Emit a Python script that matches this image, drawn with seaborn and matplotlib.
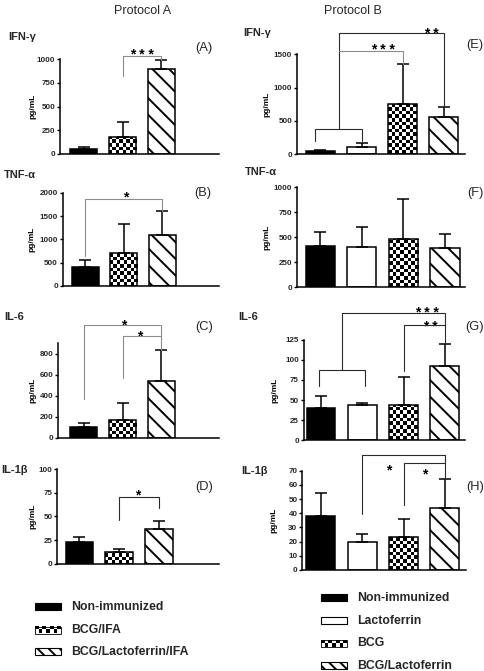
import numpy as np
import pandas as pd
import matplotlib
matplotlib.use("Agg")
import matplotlib.pyplot as plt
import seaborn as sns
from matplotlib.patches import Rectangle

# ---------------- data ----------------
groups_a = ["Non-immunized", "BCG/IFA", "BCG/Lactoferrin/IFA"]
groups_b = ["Non-immunized", "Lactoferrin", "BCG", "BCG/Lactoferrin"]

ifn_a_mean = [56, 176, 891]
ifn_a_err = [21, 162, 95]
tnf_a_mean = [414, 714, 1086]
tnf_a_err = [143, 615, 528]
il6_a_mean = [105, 168, 543]
il6_a_err = [38, 159, 289]
il1_a_mean = [22.5, 12.3, 37]
il1_a_err = [6, 3.5, 8]

ifn_b_mean = [50, 115, 750, 565]
ifn_b_err = [20, 60, 600, 150]
tnf_b_mean = [413, 407, 483, 397]
tnf_b_err = [137, 193, 400, 136]
il6_b_mean = [39.7, 43.5, 43.5, 92.3]
il6_b_err = [15.8, 3.3, 35.5, 26.9]
il1_b_mean = [37.8, 19.8, 23.6, 43.7]
il1_b_err = [16.8, 5.9, 12.4, 20.7]

cytokines = ["IFN-γ", "TNF-α", "IL-6", "IL-1β"]
panel_letters = ["(A)", "(B)", "(C)", "(D)", "(E)", "(F)", "(G)", "(H)"]

# significance brackets (polylines in data units) and star labels
sig_lines = {
    "A": [([1, 1, 2, 2], [817, 1030, 1030, 986], "g")],
    "B": [([0, 0, 2, 2], [643, 1857, 1857, 1614], "g")],
    "C": [([0, 0, 2, 2], [365, 1073, 1073, 835], "g"),
          ([1, 1, 2], [565, 968, 968], "g")],
    "D": [([1, 1, 2, 2], [46, 70, 70, 58.5], "d")],
    "E": [([-0.12, -0.12, 1.0, 1.0], [205, 375, 375, 205], "d"),
          ([0.44, 0.44], [375, 1815], "d"),
          ([0.44, 2, 2], [1555, 1555, 1350], "g"),
          ([0.44, 3, 3], [1815, 1815, 715], "d")],
    "F": [],
    "G": [([-0.05, -0.05, 1.06, 1.06], [67.5, 87, 87, 67.5], "d"),
          ([0.5, 0.5], [87, 158], "d"),
          ([0.5, 3, 3], [158, 158, 119.2], "d"),
          ([2.02, 2.02, 3], [86, 143, 143], "d")],
    "H": [([1, 1, 3, 3], [39.7, 81.3, 81.3, 64.4], "d"),
          ([2, 2, 3], [45.5, 75.1, 75.1], "d")],
}
sig_text = {
    "A": [("* * *", 1.5, 1095)],
    "B": [("*", 1.05, 1986)],
    "C": [("*", 1.04, 1114), ("*", 1.45, 1010)],
    "D": [("*", 1.48, 77)],
    "E": [("* * *", 1.51, 1640), ("* *", 2.7, 1875)],
    "F": [],
    "G": [("* * *", 2.56, 163.5), ("* *", 2.65, 146)],
    "H": [("*", 1.64, 73.5), ("*", 2.51, 70.5)],
}

yaxes = {
    "A": ((0, 1000), [0, 250, 500, 750, 1000]),
    "B": ((0, 2000), [0, 500, 1000, 1500, 2000]),
    "C": ((0, 900), [0, 200, 400, 600, 800]),
    "D": ((0, 100), [0, 25, 50, 75, 100]),
    "E": ((0, 1500), [0, 500, 1000, 1500]),
    "F": ((0, 1000), [0, 250, 500, 750, 1000]),
    "G": ((0, 125), [0, 25, 50, 75, 100, 125]),
    "H": ((0, 70), [0, 10, 20, 30, 40, 50, 60, 70]),
}

style_map = {
    "Non-immunized": "solid",
    "BCG/IFA": "checker",
    "BCG/Lactoferrin/IFA": "hatch",
    "Lactoferrin": "white",
    "BCG": "checker",
    "BCG/Lactoferrin": "hatch",
}

# ---------------- layout (pixels) ----------------
W, H = 484, 671
GRAY = "#8c8c8c"
DARK = "#2a2a2a"
CELL = 3.6

# key: (left, right, top, bottom, xlim, ylabel offset, cytokine label xy, letter xy)
layout = {
    "A": (60, 219, 59, 154, (-0.62, 3.5), -27, (8, 37), (204, 48)),
    "B": (62.7, 219, 192.7, 286, (-0.58, 3.47), -31, (4, 175), (203, 193)),
    "C": (58.3, 219, 343, 437.7, (-0.66, 3.49), -25, (4, 317), (204, 327)),
    "D": (57.3, 219, 469, 563.7, (-0.56, 3.52), -24, (1, 470), (204, 487)),
    "E": (297, 464.7, 54.3, 154.3, (-0.57, 3.51), -30, (243, 33), (475, 45)),
    "F": (297, 465, 187.3, 287.3, (-0.56, 3.48), -30, (245, 172), (475, 193)),
    "G": (303.7, 464.7, 339.7, 440.3, (-0.42, 3.48), -28.5, (238, 317), (475, 327)),
    "H": (302.3, 466, 470.7, 570, (-0.45, 3.51), -28.6, (241, 471), (475, 487)),
}

panel_data = {
    "A": (groups_a, ifn_a_mean, ifn_a_err, 0),
    "B": (groups_a, tnf_a_mean, tnf_a_err, 1),
    "C": (groups_a, il6_a_mean, il6_a_err, 2),
    "D": (groups_a, il1_a_mean, il1_a_err, 3),
    "E": (groups_b, ifn_b_mean, ifn_b_err, 0),
    "F": (groups_b, tnf_b_mean, tnf_b_err, 1),
    "G": (groups_b, il6_b_mean, il6_b_err, 2),
    "H": (groups_b, il1_b_mean, il1_b_err, 3),
}

# ---------------- style ----------------
sns.set_theme(style="white")
plt.rcParams["font.family"] = ["Liberation Sans", "DejaVu Sans"]
plt.rcParams["hatch.linewidth"] = 1.4
plt.rcParams["hatch.color"] = "black"
plt.rcParams["axes.edgecolor"] = "black"

fig = plt.figure(figsize=(W / 100, H / 100), dpi=100)
fig.patch.set_facecolor("white")


def fx(x):
    return x / W


def fy(y):
    return 1 - y / H


def checker_image(ax, x0, x1, y0, y1, clip=None, zorder=1.0):
    p0 = ax.transData.transform((x0, y0))
    p1 = ax.transData.transform((x1, y1))
    wpx, hpx = abs(p1[0] - p0[0]), abs(p1[1] - p0[1])
    nx = max(1, int(round(wpx / CELL)))
    ny = max(1, int(np.ceil(hpx / CELL)))
    dy = (y1 - y0) * (CELL / hpx) if hpx > 0 else 1
    arr = np.indices((ny, nx)).sum(axis=0) % 2
    im = ax.imshow(arr, extent=[x0, x1, y0, y0 + ny * dy], origin="lower",
                   cmap="gray", vmin=0, vmax=1, interpolation="nearest",
                   aspect="auto", zorder=zorder)
    if clip is not None:
        im.set_clip_path(clip)
    return im


for key, (groups, means, errs, ci) in panel_data.items():
    left, right, top, bottom, xlim, ylab_off, cyt_xy, let_xy = layout[key]
    ax = fig.add_axes([fx(left), fy(bottom), (right - left) / W, (bottom - top) / H])
    df = pd.DataFrame({"group": groups, "mean": means, "err": errs})
    palette = {g: ("black" if style_map[g] == "solid" else "white") for g in groups}
    sns.barplot(data=df, x="group", y="mean", hue="group", order=groups,
                hue_order=groups, palette=palette, width=0.7, saturation=1,
                edgecolor="black", linewidth=1.1, errorbar=None, legend=False,
                ax=ax)
    ylim, yticks = yaxes[key]
    ax.set_xlim(*xlim)
    ax.set_ylim(*ylim)

    # patterns
    for patch in list(ax.patches):
        cx = patch.get_x() + patch.get_width() / 2
        idx = int(round(cx))
        if idx < 0 or idx >= len(groups):
            continue
        st = style_map[groups[idx]]
        if st == "hatch":
            patch.set_hatch("\\\\")
            patch.set_facecolor("white")
        elif st == "checker":
            z = patch.get_zorder()
            x0 = patch.get_x()
            checker_image(ax, x0, x0 + patch.get_width(), 0, patch.get_height(),
                          clip=patch, zorder=z + 0.01)
            patch.set_facecolor("none")
            patch.set_zorder(z + 0.02)
    ax.set_xlim(*xlim)
    ax.set_ylim(*ylim)

    ax.errorbar(np.arange(len(groups)), df["mean"],
                yerr=[np.zeros(len(groups)), df["err"]], fmt="none",
                ecolor="black", elinewidth=1.1, capsize=4.3, capthick=1.1,
                zorder=3)

    sns.despine(ax=ax)
    for s in ("left", "bottom"):
        ax.spines[s].set_linewidth(1.1)
        ax.spines[s].set_color("black")
    ax.set_xticks([])
    ax.set_xlabel("")
    ax.set_yticks(yticks)
    ax.set_yticklabels([f"{t:g}" for t in yticks], fontsize=5.8, fontweight="bold")
    ax.tick_params(axis="y", direction="out", length=2.5, width=1.0, pad=1,
                   left=True, color="black")
    ax.set_ylabel("pg/mL", fontsize=6, fontweight="bold", color="black")
    ax.yaxis.label.set_va("center")
    ax.yaxis.set_label_coords(ylab_off / (right - left), 0.5)

    for xs, ys, c in sig_lines[key]:
        ax.plot(xs, ys, color=GRAY if c == "g" else DARK, lw=0.8,
                clip_on=False, zorder=4, solid_joinstyle="miter")
    for txt, tx, ty in sig_text[key]:
        ax.annotate(txt, xy=(tx, ty), xytext=(0, -3.3), textcoords="offset points",
                    ha="center", va="center", fontsize=10, fontweight="bold",
                    color="black", annotation_clip=False)

    fig.text(fx(cyt_xy[0]), fy(cyt_xy[1]), cytokines[ci], ha="left", va="center",
             fontsize=8, fontweight="bold")
    fig.text(fx(let_xy[0]), fy(let_xy[1]), panel_letters["ABCDEFGH".index(key)],
             ha="center", va="center", fontsize=9.3)

fig.text(fx(143), fy(11), "Protocol A", ha="center", va="center", fontsize=9)
fig.text(fx(353), fy(11), "Protocol B", ha="center", va="center", fontsize=9)

# ---------------- legends ----------------
lax = fig.add_axes([0, 0, 1, 1], zorder=5)
lax.set_xlim(0, W)
lax.set_ylim(H, 0)
lax.axis("off")
lax.patch.set_alpha(0)

legend_a_y = [606.7, 630, 651.7]
legend_b_y = [597.7, 620.7, 643.3, 665.7]


def swatch(x0, yc, style):
    w, h = 26, 7
    y0 = yc - h / 2
    if style == "checker":
        lax.imshow(np.indices((2, 7)).sum(axis=0) % 2, extent=[x0, x0 + w, y0 + h, y0],
                   cmap="gray", vmin=0, vmax=1, interpolation="nearest",
                   aspect="auto", zorder=1)
        r = Rectangle((x0, y0), w, h, facecolor="none", edgecolor="black", lw=0.6, zorder=2)
        lax.add_patch(r)
    else:
        fc = "black" if style == "solid" else "white"
        r = Rectangle((x0, y0), w, h, facecolor=fc, edgecolor="black", lw=0.8,
                      hatch="\\\\\\" if style == "hatch" else None, zorder=2)
        lax.add_patch(r)


for g, yc in zip(groups_a, legend_a_y):
    swatch(35, yc, style_map[g])
    lax.text(70.7, yc, g, ha="left", va="center", fontsize=8.8, fontweight="bold")
for g, yc in zip(groups_b, legend_b_y):
    swatch(321, yc, style_map[g])
    lax.text(357, yc, g, ha="left", va="center", fontsize=8.8, fontweight="bold")
lax.set_xlim(0, W)
lax.set_ylim(H, 0)

fig.savefig("out.png", dpi=100, facecolor="white")
